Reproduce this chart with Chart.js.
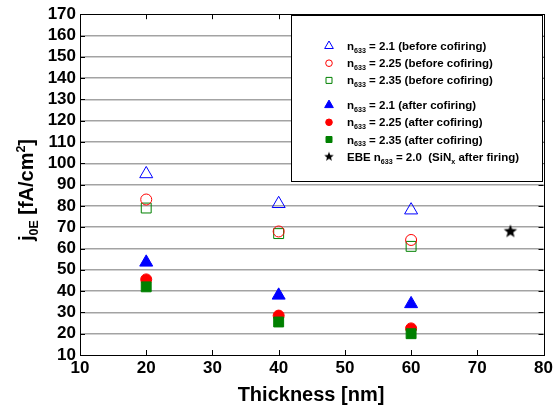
<!DOCTYPE html>
<html>
<head>
<meta charset="utf-8">
<script src="https://cdn.jsdelivr.net/npm/chart.js@4/dist/chart.umd.min.js"></script>
<style>
  html, body { margin: 0; padding: 0; background: #fff; }
  #wrap { width: 556px; height: 414px; }
</style>
</head>
<body>
<div id="wrap"><canvas id="chart"></canvas></div>
<script>
// data
const thickness = [20, 40, 60];
const before21 = [95, 81, 78];
const before225 = [83, 68, 64];
const before235 = [79, 67, 61];
const after21 = [53.5, 38, 34];
const after225 = [45.5, 28.5, 22.5];
const after235 = [42, 25.5, 20];
const ebeThickness = [75];
const ebeJ0e = [68];

const xTicks = [10, 20, 30, 40, 50, 60, 70, 80];
const yTicks = [10, 20, 30, 40, 50, 60, 70, 80, 90, 100, 110, 120, 130, 140, 150, 160, 170];

// legend texts, split so subscripts can be drawn
const legendTexts = [
  [['n'], ['633', 'sub'], [' = 2.1 (before cofiring)']],
  [['n'], ['633', 'sub'], [' = 2.25 (before cofiring)']],
  [['n'], ['633', 'sub'], [' = 2.35 (before cofiring)']],
  [['n'], ['633', 'sub'], [' = 2.1 (after cofiring)']],
  [['n'], ['633', 'sub'], [' = 2.25 (after cofiring)']],
  [['n'], ['633', 'sub'], [' = 2.35 (after cofiring)']],
  [['EBE n'], ['633', 'sub'], [' = 2.0  (SiN'], ['x', 'sub'], [' after firing)']]
];

const FONT = '"Liberation Sans", Arial, Helvetica, sans-serif';

// filled star marker
function makeStar(r) {
  const c = document.createElement('canvas');
  c.width = c.height = Math.ceil(r * 2 + 2);
  const g = c.getContext('2d');
  const cx = c.width / 2, cy = c.height / 2;
  g.beginPath();
  for (let i = 0; i < 10; i++) {
    const rad = i % 2 === 0 ? r : r * 0.42;
    const a = -Math.PI / 2 + i * Math.PI / 5;
    g.lineTo(cx + rad * Math.cos(a), cy + rad * Math.sin(a));
  }
  g.closePath();
  g.fillStyle = '#000';
  g.fill();
  return c;
}
const bigStar = makeStar(7);
const smallStar = makeStar(5);

function pts(xs, ys) {
  return xs.map((x, i) => ({ x: x, y: ys[i] }));
}

const datasets = [
  { data: pts(thickness, before21), pointStyle: 'triangle', pointRadius: 7.5, borderColor: '#0000ff', backgroundColor: 'rgba(0,0,0,0)', borderWidth: 1 },
  { data: pts(thickness, before225), pointStyle: 'circle', pointRadius: 5.5, borderColor: '#ff0000', backgroundColor: 'rgba(0,0,0,0)', borderWidth: 1 },
  { data: pts(thickness, before235), pointStyle: 'rect', pointRadius: 7, borderColor: '#008000', backgroundColor: 'rgba(0,0,0,0)', borderWidth: 1 },
  { data: pts(thickness, after21), pointStyle: 'triangle', pointRadius: 7.5, borderColor: '#0000ff', backgroundColor: '#0000ff', borderWidth: 1 },
  { data: pts(thickness, after235), pointStyle: 'rect', pointRadius: 7, borderColor: '#008000', backgroundColor: '#008000', borderWidth: 1 },
  { data: pts(thickness, after225), pointStyle: 'circle', pointRadius: 5.5, borderColor: '#ff0000', backgroundColor: '#ff0000', borderWidth: 1 },
  { data: pts(ebeThickness, ebeJ0e), pointStyle: bigStar, pointRadius: 7, borderColor: '#000', backgroundColor: '#000' }
];
// legend order differs from draw order (red circles drawn on top of green squares)
const legendOrder = [0, 1, 2, 3, 5, 4, 6];

function drawRich(ctx, parts, x, y, size, align) {
  const measure = () => {
    let w = 0;
    parts.forEach(p => {
      ctx.font = 'bold ' + (p[1] ? size * 0.62 : size) + 'px ' + FONT;
      w += ctx.measureText(p[0]).width;
    });
    return w;
  };
  let cx = x;
  if (align === 'center') cx = x - measure() / 2;
  ctx.textBaseline = 'alphabetic';
  ctx.textAlign = 'left';
  parts.forEach(p => {
    const s = p[1] ? size * 0.62 : size;
    ctx.font = 'bold ' + s + 'px ' + FONT;
    let dy = 0;
    if (p[1] === 'sub') dy = size * 0.25;
    if (p[1] === 'sup') dy = -size * 0.38;
    ctx.fillText(p[0], cx, y + dy);
    cx += ctx.measureText(p[0]).width;
  });
}

function legendMarker(ctx, idx, x, y) {
  const ds = datasets[idx];
  ctx.save();
  ctx.strokeStyle = ds.borderColor;
  ctx.fillStyle = ds.backgroundColor;
  ctx.lineWidth = 1;
  const st = ds.pointStyle;
  ctx.beginPath();
  if (st === 'triangle') {
    const r = 5;
    ctx.moveTo(x, y - r);
    ctx.lineTo(x + r * 0.866, y + r / 2);
    ctx.lineTo(x - r * 0.866, y + r / 2);
    ctx.closePath();
  } else if (st === 'circle') {
    ctx.arc(x, y, 3.3, 0, Math.PI * 2);
  } else if (st === 'rect') {
    ctx.rect(x - 3, y - 3, 6, 6);
  } else {
    ctx.drawImage(smallStar, x - smallStar.width / 2, y - smallStar.height / 2);
    ctx.restore();
    return;
  }
  ctx.fill();
  ctx.stroke();
  ctx.restore();
}

const framePlugin = {
  id: 'frame',
  afterDraw(chart) {
    const ctx = chart.ctx;
    const a = chart.chartArea;
    const xs = chart.scales.x, ys = chart.scales.y;
    ctx.save();
    // box around the plot
    ctx.strokeStyle = '#000';
    ctx.lineWidth = 1;
    ctx.strokeRect(Math.round(a.left) + 0.5, Math.round(a.top) + 0.5, Math.round(a.right - a.left), Math.round(a.bottom - a.top));
    // inward ticks on all four sides
    ctx.beginPath();
    xTicks.forEach(v => {
      const px = Math.round(xs.getPixelForValue(v)) + 0.5;
      ctx.moveTo(px, a.bottom); ctx.lineTo(px, a.bottom - 5);
      ctx.moveTo(px, a.top); ctx.lineTo(px, a.top + 5);
    });
    yTicks.forEach(v => {
      const py = Math.round(ys.getPixelForValue(v)) + 0.5;
      ctx.moveTo(a.left, py); ctx.lineTo(a.left + 5, py);
      ctx.moveTo(a.right, py); ctx.lineTo(a.right - 5, py);
    });
    ctx.stroke();

    // legend box
    const lx = 291, ly = 15, lw = 251, lh = 166;
    ctx.fillStyle = '#fff';
    ctx.fillRect(lx, ly, lw, lh);
    ctx.strokeRect(lx + 0.5, ly + 0.5, lw, lh);
    let rowY = 46;
    legendOrder.forEach((idx, i) => {
      if (i === 3) rowY += 7.5;
      legendMarker(ctx, idx, 329, rowY);
      ctx.fillStyle = '#000';
      drawRich(ctx, legendTexts[i], 347, rowY + 4, 11.5, 'left');
      rowY += 17.2;
    });

    // axis titles
    ctx.fillStyle = '#000';
    drawRich(ctx, [['Thickness [nm]']], 311, 401, 20, 'center');
    ctx.translate(33, 190);
    ctx.rotate(-Math.PI / 2);
    drawRich(ctx, [['j'], ['0E', 'sub'], [' [fA/cm'], ['2', 'sup'], [']']], 0, 0, 20, 'center');
    ctx.restore();
  }
};

const chart = new Chart(document.getElementById('chart').getContext('2d'), {
  type: 'scatter',
  data: { datasets: datasets },
  options: {
    responsive: true,
    maintainAspectRatio: false,
    animation: false,
    layout: { padding: { top: 13, right: 11, left: 0, bottom: 0 } },
    plugins: { legend: { display: false }, tooltip: { enabled: false } },
    scales: {
      x: {
        type: 'linear', min: 10, max: 80,
        afterBuildTicks: s => { s.ticks = xTicks.map(v => ({ value: v })); },
        afterFit: s => { s.height = 59; },
        grid: { display: false, drawTicks: false },
        border: { color: '#000' },
        ticks: { color: '#000', padding: 3, maxRotation: 0, autoSkip: false, font: { family: FONT, size: 17, weight: 'bold' } }
      },
      y: {
        type: 'linear', min: 10, max: 170,
        afterBuildTicks: s => { s.ticks = yTicks.map(v => ({ value: v })); },
        afterFit: s => { s.width = 80; },
        grid: {
          drawTicks: false,
          lineWidth: 1.5,
          color: c => (c.tick && (c.tick.value === 10 || c.tick.value === 170)) ? 'rgba(0,0,0,0)' : '#a3a3a3'
        },
        border: { color: '#000' },
        ticks: { color: '#000', padding: 4, autoSkip: false, font: { family: FONT, size: 17, weight: 'bold' } }
      }
    }
  },
  plugins: [framePlugin]
});
</script>
</body>
</html>
